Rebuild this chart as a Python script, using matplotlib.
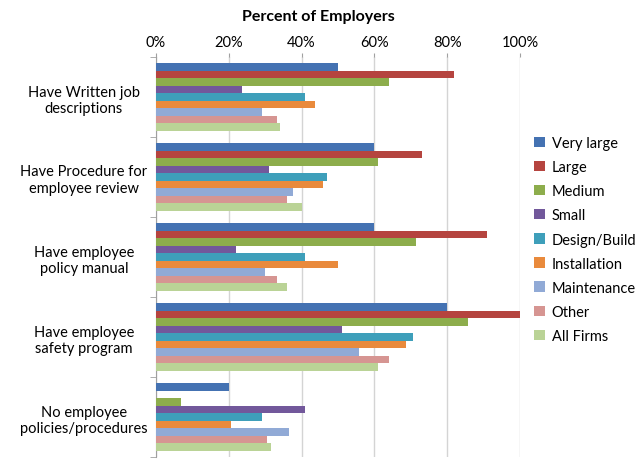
import matplotlib.pyplot as plt
import numpy as np
from matplotlib.ticker import PercentFormatter

plt.rcParams['font.family'] = ['Lato', 'DejaVu Sans']

categories = ["Have Written job\ndescriptions",
              "Have Procedure for\nemployee review",
              "Have employee\npolicy manual",
              "Have employee\nsafety program",
              "No employee\npolicies/procedures"]

series = ["Very large", "Large", "Medium", "Small", "Design/Build",
          "Installation", "Maintenance", "Other", "All Firms"]

very_large = [50, 60, 60, 80, 20]
large = [82, 73, 91, 100, 0]
medium = [64, 61, 71.5, 85.7, 7]
small = [23.5, 31, 22, 51, 41]
design_build = [41, 47, 41, 70.6, 29.2]
installation = [43.7, 45.8, 50, 68.7, 20.6]
maintenance = [29.2, 37.5, 30, 55.7, 36.6]
other = [33.2, 36, 33.2, 64, 30.4]
all_firms = [34, 40, 36, 61, 31.6]

values = [very_large, large, medium, small, design_build,
          installation, maintenance, other, all_firms]

colors = ["#4472B2", "#B5443F", "#8DAD4C", "#72589B", "#3E9FBA",
          "#E98A3C", "#91AAD6", "#D69592", "#BAD396"]

fig = plt.figure(figsize=(6.44, 4.60), dpi=100)
ax = fig.add_axes([156/644, 1 - 458/460, (520-156)/644, (458-58)/460])

y = np.arange(len(categories))
n = len(series)
h = 0.85 / n
for i, (name, vals) in enumerate(zip(series, values)):
    ax.barh(y - 0.425 + (i + 0.5) * h, vals, height=h, color=colors[i],
            label=name, zorder=3)

ax.set_xlim(0, 100)
ax.set_ylim(len(categories) - 0.5, -0.5)
ax.xaxis.tick_top()
ax.set_xticks(np.arange(0, 101, 20))
ax.xaxis.set_major_formatter(PercentFormatter(decimals=0))
ax.tick_params(axis='x', length=3, color='#A0A0A0', labelsize=10.5, pad=3)
ax.grid(axis='x', color='#D4D4D4', linewidth=1, zorder=0)

ax.set_yticks(y)
ax.set_yticklabels(categories, ha='center', fontsize=10.5)
ax.tick_params(axis='y', which='major', length=0, pad=52)
ax.set_yticks(np.arange(-0.5, len(categories)), minor=True)
ax.tick_params(axis='y', which='minor', length=4, color='#A0A0A0')

for s in ['top', 'right', 'bottom']:
    ax.spines[s].set_visible(False)
ax.spines['left'].set_color('#A0A0A0')

fig.text(318/644, 1 - 17/460, "Percent of Employers", ha='center', va='center',
         fontsize=11.5, fontweight='bold')

fig.legend(loc='upper left', bbox_to_anchor=(527/644, 1 - 130/460), frameon=False,
           fontsize=10.5, handlelength=0.7, handleheight=0.7, handletextpad=0.5,
           labelspacing=0.69, borderpad=0)

fig.savefig("out.png", dpi=100)
